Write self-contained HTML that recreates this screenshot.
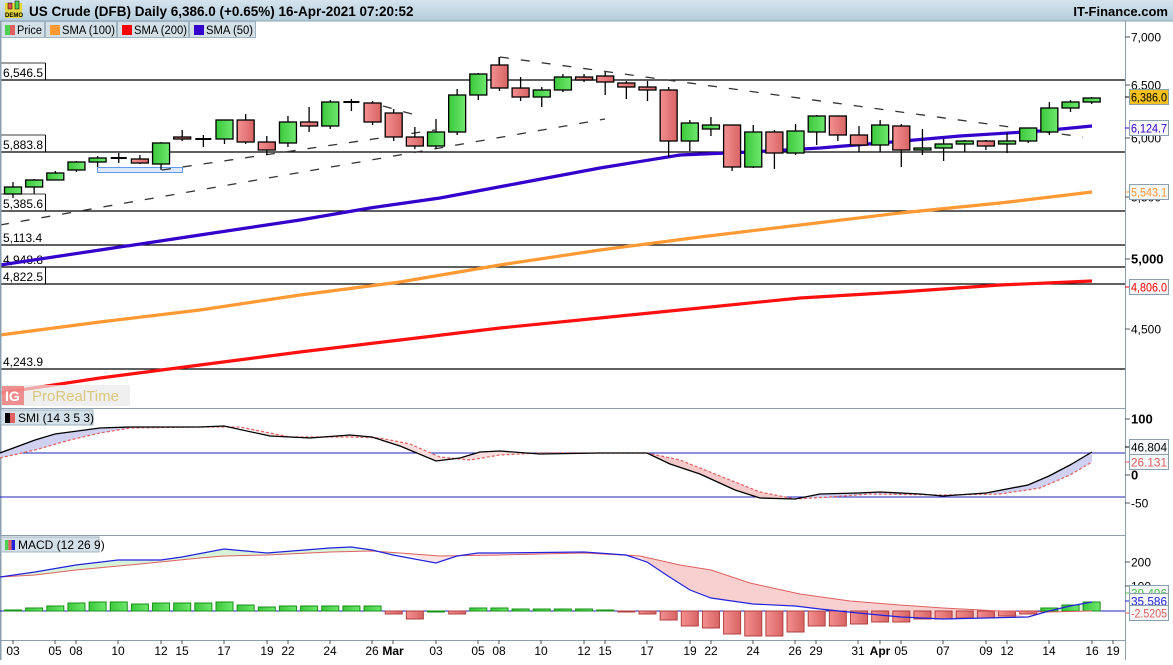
<!DOCTYPE html>
<html><head><meta charset="utf-8">
<style>
html,body{margin:0;padding:0;background:#fff;}
body{width:1173px;height:660px;overflow:hidden;font-family:"Liberation Sans",sans-serif;}
svg text{font-family:"Liberation Sans",sans-serif;}
</style></head><body>
<svg id="c" width="1173" height="660" xmlns="http://www.w3.org/2000/svg">
<defs>
<linearGradient id="hd" x1="0" y1="0" x2="0" y2="1"><stop offset="0" stop-color="#d5e4ee"/><stop offset="1" stop-color="#b5cddc"/></linearGradient>
<linearGradient id="gg" x1="0" y1="0" x2="1" y2="0"><stop offset="0" stop-color="#3cc83c"/><stop offset="1" stop-color="#6ee86e"/></linearGradient>
<linearGradient id="gr" x1="0" y1="0" x2="1" y2="0"><stop offset="0" stop-color="#f49090"/><stop offset="1" stop-color="#d86464"/></linearGradient>
</defs>
<rect x="0" y="0" width="1173" height="660" fill="#fff"/>
<rect x="0" y="0" width="1173" height="21" fill="url(#hd)"/>
<line x1="0" y1="21" x2="1173" y2="21" stroke="#8aa0b0"/>
<g id="g"></g>
</svg>
<script>
const S='http://www.w3.org/2000/svg';const g=document.getElementById('g');
function el(t,a,txt){const e=document.createElementNS(S,t);for(const k in a)e.setAttribute(k,a[k]);if(txt!==undefined)e.textContent=txt;g.appendChild(e);return e;}
function pl(pts,a){a.points=pts.map(p=>p.join(',')).join(' ');a.fill=a.fill||'none';return el('polyline',a);}
const X=i=>13+21.15*i;
// header
el('rect',{x:5,y:3,width:17,height:15,fill:'#e8d840'});
el('text',{x:5,y:17,'font-size':6,'font-weight':'bold',fill:'#000'},'DEMO');
el('rect',{x:8,y:3,width:4,height:6,fill:'#e05050',stroke:'#000','stroke-width':0.5});
el('rect',{x:15,y:1,width:4,height:8,fill:'#50d050',stroke:'#000','stroke-width':0.5});
el('text',{x:29,y:16,'font-size':13.5,'font-weight':'bold',fill:'#000'},'US Crude (DFB) Daily 6,386.0 (+0.65%) 16-Apr-2021 07:20:52');
el('text',{x:1168,y:16,'font-size':13,'font-weight':'bold',fill:'#000','text-anchor':'end'},'IT-Finance.com');
// legend tabs
const tabs=[[0,44,'Price',['#50d050','#e06060']],[45,116,'SMA (100)',['#ff9933']],[117,188,'SMA (200)',['#ff0000']],[189,255,'SMA (50)',['#3300cc']]];
el('rect',{x:0,y:21,width:256,height:17,fill:'#c9d8e2'});
tabs.forEach(t=>{el('rect',{x:t[0]+0.5,y:21.5,width:t[1]-t[0],height:16,fill:'#d4e0e8',stroke:'#9fb2c0'});
 if(t[3].length==2){el('rect',{x:t[0]+5,y:25,width:5,height:10,fill:t[3][0]});el('rect',{x:t[0]+10,y:25,width:5,height:10,fill:t[3][1]});}
 else el('rect',{x:t[0]+5,y:25,width:10,height:10,fill:t[3][0]});
 el('text',{x:t[0]+17,y:34,'font-size':11.5,fill:'#000',textLength:(t[2]=='Price'?25:t[2]=='SMA (50)'?47:53),lengthAdjust:'spacingAndGlyphs'},t[2]);});
// level lines
const lv=[[80,'6,546.5',1],[152,'5,883.8',1],[211,'5,385.6',1],[245,'5,113.4',0],[267,'4,948.8',0],[284,'4,822.5',1],[369,'4,243.9',0]];
lv.forEach(l=>{el('line',{x1:0,y1:l[0],x2:1125,y2:l[0],stroke:'#000','stroke-width':1.3});
 el('text',{x:3,y:l[0]-3,'font-size':12,fill:'#000'},l[1]);
 if(l[2])el('line',{x1:45.5,y1:l[0]-17,x2:45.5,y2:l[0],stroke:'#000'});
 if(l[2])el('line',{x1:0,y1:l[0]-17,x2:45.5,y2:l[0]-17,stroke:'#000','stroke-width':0.8});});
// blue box
el('rect',{x:97.5,y:167.5,width:85,height:5,fill:'#dde8fb',stroke:'#6699ee'});
// dashed trendlines
const dash={stroke:'#333','stroke-width':1.3,'stroke-dasharray':'9,12'};
el('line',Object.assign({x1:0,y1:225,x2:605,y2:119},dash));
el('line',Object.assign({x1:162,y1:170,x2:435,y2:130},dash));
el('line',Object.assign({x1:383,y1:106,x2:412,y2:114},dash));
el('line',Object.assign({x1:500,y1:57,x2:1083,y2:137},dash));
el('line',{x1:499,y1:57,x2:499,y2:65,stroke:'#333','stroke-width':1.3});
// SMAs
pl([[0,393],[100,378],[200,365],[300,352],[400,340],[500,328],[600,318],[700,308],[800,298],[900,292],[1000,285],[1092,281]],{stroke:'#ff1010','stroke-width':3.2});
pl([[0,335],[100,322],[200,310],[300,295],[400,282],[500,265],[600,250],[700,237],[800,225],[900,213],[1000,203],[1092,192]],{stroke:'#ff9933','stroke-width':3.2});
pl([[0,265],[100,250],[200,235],[300,220],[370,208],[440,198],[520,183],[600,168],[680,155],[750,152],[820,148],[880,143],[960,136],[1040,131],[1092,126]],{stroke:'#3300cc','stroke-width':3.2});
// candles
const C=[[187,194,182,198,'g'],[180,187,179,194,'g'],[173,180,171,180,'g'],[162,170,161,172,'g'],[158,162,156,167,'g'],[158,159,153,163,'d'],[159,163,155,164,'r'],[143,164,142,170,'g'],[137,139,130,141,'r'],[139,139,135,147,'d'],[120,139,120,144,'g'],[120,142,114,144,'r'],[142,150,136,155,'r'],[122,143,116,147,'g'],[122,126,107,132,'r'],[102,126,100,129,'g'],[102,102,99,111,'d'],[103,122,101,125,'r'],[113,137,109,141,'r'],[137,146,127,149,'r'],[132,146,119,149,'g'],[95,132,89,135,'g'],[74,95,73,100,'g'],[65,88,57,91,'r'],[88,97,77,101,'r'],[90,97,87,107,'g'],[77,90,74,92,'g'],[77,80,74,82,'r'],[76,82,72,95,'r'],[83,87,81,99,'r'],[87,90,81,101,'r'],[90,141,87,157,'r'],[123,141,120,151,'g'],[125,129,117,136,'g'],[125,167,125,171,'r'],[132,167,125,168,'g'],[132,153,130,169,'r'],[131,153,124,155,'g'],[116,132,115,145,'g'],[116,135,116,141,'r'],[135,145,126,152,'r'],[125,145,120,152,'g'],[126,150,124,167,'r'],[148,150,129,155,'g'],[144,148,139,161,'g'],[141,144,140,152,'g'],[141,146,140,150,'r'],[141,144,133,153,'g'],[128,141,128,143,'g'],[108,132,102,135,'g'],[102,108,100,112,'g'],[98,102,97,104,'g']];
C.forEach((c,i)=>{const x=X(i);el('line',{x1:x,y1:c[2],x2:x,y2:c[3],stroke:'#000','stroke-width':1.3});
 if(c[4]=='d')el('line',{x1:x-8,y1:c[0],x2:x+8,y2:c[0],stroke:'#000','stroke-width':2});
 else el('rect',{x:x-8.5,y:c[0],width:17,height:Math.max(c[1]-c[0],2),fill:c[4]=='g'?'url(#gg)':'url(#gr)',stroke:'#000','stroke-width':1.3});});
// ProRealTime logo
el('rect',{x:0,y:385,width:130,height:21,fill:'#e8e8e8',opacity:0.7});
el('rect',{x:2,y:386,width:22,height:19,fill:'#ee7777',opacity:0.8});
el('text',{x:5,y:401,'font-size':14,'font-weight':'bold',fill:'#fff'},'IG');
el('text',{x:32,y:401,'font-size':15,fill:'#d8c880'},'ProRealTime');
// pane separators
[408,535].forEach(y=>el('line',{x1:0,y1:y+0.5,x2:1125,y2:y+0.5,stroke:'#8aa0b0'}));
el('line',{x1:0,y1:640.5,x2:1125,y2:640.5,stroke:'#8aa0b0'});
el('line',{x1:1125.5,y1:21,x2:1125.5,y2:660,stroke:'#8aa0b0'});
el('line',{x1:0.5,y1:21,x2:0.5,y2:660,stroke:'#8aa0b0','stroke-width':2});
// SMI
el('line',{x1:0,y1:453,x2:1125,y2:453,stroke:'#2222bb'});
el('line',{x1:0,y1:497,x2:1125,y2:497,stroke:'#2222bb'});
const smi=[[0,453],[35,440],[55,434],[100,428],[130,427],[200,427],[224,426],[270,436],[310,438],[350,435],[372,437],[400,446],[436,461],[460,458],[480,452],[500,451],[540,454],[600,453],[647,453],[670,464],[700,474],[735,490],[760,498],[795,499],[820,494],[858,493],[880,492],[920,494],[943,496],[986,493],[1028,485],[1049,476],[1070,465],[1092,452]];
const sig=[[0,458],[35,450],[70,440],[100,433],[130,428],[200,427],[240,427],[290,437],[350,437],[380,438],[410,444],[440,457],[470,460],[500,455],[540,453],[647,453],[680,460],[720,476],[760,492],[795,499],[830,497],[870,494],[943,495],[1000,494],[1040,488],[1070,475],[1092,462]];
function fillBetween(a,b,x0,x1,col){const A=a.filter(p=>p[0]>=x0&&p[0]<=x1),B=b.filter(p=>p[0]>=x0&&p[0]<=x1).reverse();el('polygon',{points:A.concat(B).map(p=>p.join(',')).join(' '),fill:col});}
fillBetween(smi,sig,0,230,'#d0d0f0');fillBetween(smi,sig,230,650,'#f8dede');fillBetween(smi,sig,640,800,'#f4caca');fillBetween(smi,sig,795,1092,'#d0d0f0');
pl(sig,{stroke:'#e06060','stroke-width':1.2,'stroke-dasharray':'3,2'});
pl(smi,{stroke:'#000','stroke-width':1.3});
el('rect',{x:1,y:410,width:92,height:15,fill:'#d4e0e8',stroke:'#9fb2c0'});
el('rect',{x:5,y:413,width:5,height:10,fill:'#000'});el('rect',{x:10,y:413,width:5,height:10,fill:'#e06060'});
el('text',{x:18,y:422,'font-size':12,fill:'#000'},'SMI (14 3 5 3)');
// MACD
el('line',{x1:0,y1:611,x2:1125,y2:611,stroke:'#2222bb'});
const H=[610,608,606,603,602,602,604,603,603,603,602,605,607,606,606,606,606,606,614,619,611,614,608,608,609,609,609,609,610,612,614,620,626,628,634,636,636,632,626,626,624,622,622,619,619,618,618,616,614,608,605,602];
const md=[[0,577],[35,572],[76,565],[118,560],[161,560],[182,557],[224,549],[267,553],[330,548],[351,547],[372,550],[393,555],[436,563],[457,556],[478,553],[500,553],[584,552],[626,555],[647,562],[668,576],[690,590],[711,598],[753,604],[795,606],[820,609],[858,613],[901,617],[943,619],[986,618],[1028,617],[1049,611],[1070,606],[1092,602]];
const ms=[[0,577],[35,575],[76,570],[130,565],[200,558],[224,556],[267,555],[330,552],[372,551],[400,553],[440,556],[500,555],[584,553],[640,556],[680,565],[711,570],[750,583],[800,594],[850,601],[900,605],[943,608],[1000,611],[1049,612],[1092,611]];
fillBetween(md,ms,0,410,'#d8f4d8');fillBetween(md,ms,400,650,'#fbe4e4');fillBetween(md,ms,640,1045,'#f8d0d0');fillBetween(md,ms,1040,1092,'#d8f4d8');
H.forEach((h,i)=>{const x=X(i);const up=h<=611;el('rect',{x:x-8.5,y:Math.min(h,611),width:17,height:Math.max(Math.abs(h-611),1),fill:up?'url(#gg)':'url(#gr)',stroke:up?'#169016':'#b04040','stroke-width':1});});
pl(ms,{stroke:'#e06060','stroke-width':1});
pl(md,{stroke:'#2222dd','stroke-width':1.2});
el('rect',{x:1,y:537,width:98,height:15,fill:'#d4e0e8',stroke:'#9fb2c0'});
el('rect',{x:5,y:540,width:3.3,height:10,fill:'#50d050'});el('rect',{x:8.3,y:540,width:3.3,height:10,fill:'#e06060'});el('rect',{x:11.6,y:540,width:3.4,height:10,fill:'#2222dd'});
el('text',{x:18,y:549,'font-size':12,fill:'#000'},'MACD (12 26 9)');
// x axis
const xl=[[13,'03'],[55,'05'],[76,'08'],[118,'10'],[161,'12'],[182,'15'],[224,'17'],[267,'19'],[288,'22'],[330,'24'],[372,'26'],[393,'Mar'],[436,'03'],[478,'05'],[499,'08'],[541,'10'],[584,'12'],[605,'15'],[647,'17'],[690,'19'],[711,'22'],[753,'24'],[795,'26'],[816,'29'],[858,'31'],[880,'Apr'],[901,'05'],[943,'07'],[986,'09'],[1007,'12'],[1049,'14'],[1092,'16'],[1113,'19']];
xl.forEach(l=>{el('line',{x1:l[0],y1:640,x2:l[0],y2:644,stroke:'#555'});el('text',{x:l[0],y:655,'font-size':12,fill:'#000','text-anchor':'middle','font-weight':(l[1]=='Mar'||l[1]=='Apr')?'bold':'normal'},l[1]);});
// right axis
function tick(y,t,b){el('line',{x1:1125,y1:y,x2:1130,y2:y,stroke:'#555'});el('text',{x:1131,y:y+4.5,'font-size':b?13:12,'font-weight':b?'bold':'normal',fill:'#000'},t);}
tick(37,'7,000');tick(85,'6,500');tick(138,'6,000');tick(197,'5,500');tick(259,'5,000',1);tick(329,'4,500');
tick(419,'100',1);tick(475,'0',1);tick(503,'-50');tick(562,'200');tick(586,'100');
function box(y,t,col,bg){el('line',{x1:1125,y1:y,x2:1130,y2:y,stroke:col});el('rect',{x:1129.5,y:y-7.5,width:39,height:15,fill:bg,stroke:'#8aa0b0'});el('text',{x:1131,y:y+4.5,'font-size':12,fill:col,textLength:36,lengthAdjust:'spacingAndGlyphs'},t);}
box(97,'6,386.0','#000','#f4c020');box(128,'6,124.7','#3300cc','#f4f6f8');box(192,'5,543.1','#ff9933','#f4f6f8');box(287,'4,806.0','#ff0000','#f4f6f8');
box(447,'46.804','#000','#f4f6f8');box(462,'26.131','#e06060','#f4f6f8');
box(593,'39.496','#50c050','#f4f6f8');box(601,'35.586','#2222dd','#f4f6f8');box(613,'-2.5205','#e06060','#f4f6f8');
</script>
</body></html>
